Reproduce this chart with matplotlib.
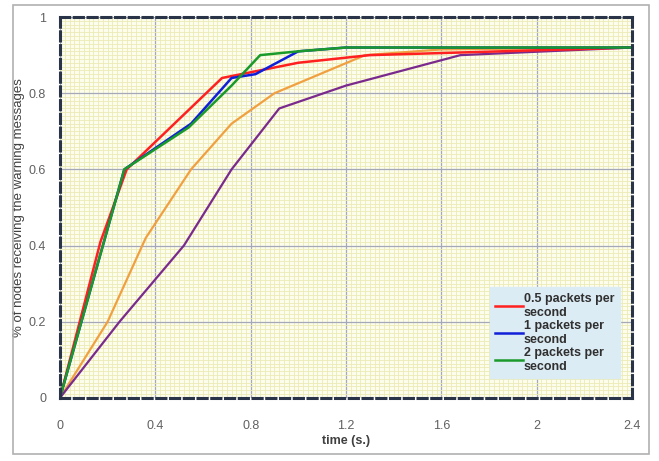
import matplotlib.pyplot as plt
from matplotlib.patches import Rectangle
from matplotlib.ticker import MultipleLocator

plt.rcParams['font.family'] = ['Liberation Sans', 'DejaVu Sans']

# time (s.) vs fraction of nodes receiving the warning messages
t_red = [0, 0.17, 0.28, 0.68, 1.0, 1.3, 2.4]
v_red = [0, 0.41, 0.60, 0.84, 0.88, 0.90, 0.92]
t_blue = [0, 0.27, 0.55, 0.72, 0.82, 1.0, 1.2, 2.4]
v_blue = [0, 0.60, 0.72, 0.84, 0.85, 0.91, 0.92, 0.92]
t_green = [0, 0.27, 0.54, 0.72, 0.84, 1.0, 1.2, 2.4]
v_green = [0, 0.60, 0.71, 0.82, 0.90, 0.91, 0.92, 0.92]
t_orange = [0, 0.2, 0.36, 0.55, 0.72, 0.9, 1.28, 1.6, 2.4]
v_orange = [0, 0.2, 0.42, 0.60, 0.72, 0.80, 0.90, 0.915, 0.92]
t_purple = [0, 0.25, 0.52, 0.72, 0.92, 1.2, 1.68, 2.4]
v_purple = [0, 0.2, 0.40, 0.60, 0.76, 0.82, 0.90, 0.92]

labels = ["0.5 packets per\nsecond", "1 packets per\nsecond", "2 packets per\nsecond"]
xticks = [0, 0.4, 0.8, 1.2, 1.6, 2, 2.4]
xtick_labels = ["0", "0.4", "0.8", "1.2", "1.6", "2", "2.4"]
yticks = [0, 0.2, 0.4, 0.6, 0.8, 1]
ytick_labels = ["0", "0.2", "0.4", "0.6", "0.8", "1"]

fig = plt.figure(figsize=(6.59, 4.61), dpi=100)
fig.patches.append(Rectangle((0.02, 0.015), 0.965, 0.975, transform=fig.transFigure,
                             fill=False, edgecolor="#b0b0b0", lw=1.2))
ax = fig.add_axes([0.091, 0.137, 0.868, 0.826])
ax.set_facecolor("#fdfdee")

ax.xaxis.set_minor_locator(MultipleLocator(0.02))
ax.yaxis.set_minor_locator(MultipleLocator(0.01))
ax.grid(which="minor", color="#ecebb4", lw=0.6)
ax.grid(which="major", color="#a4a8b8", lw=0.9)
ax.set_axisbelow(True)

ax.plot(t_orange, v_orange, color="#f0a040", lw=1.6)
ax.plot(t_purple, v_purple, color="#7a2a8c", lw=1.6)
ax.plot(t_red, v_red, color="#ff2020", lw=1.8, label=labels[0])
ax.plot(t_blue, v_blue, color="#1020d8", lw=1.8, label=labels[1])
ax.plot(t_green, v_green, color="#1a9a2a", lw=1.8, label=labels[2])

ax.set_xlim(0, 2.4)
ax.set_ylim(0, 1)
ax.set_xticks(xticks, xtick_labels)
ax.set_yticks(yticks, ytick_labels)
ax.tick_params(which="both", length=0, labelsize=9, labelcolor="#606060")
ax.tick_params(axis="x", pad=16)
ax.tick_params(axis="y", pad=10)

for s in ax.spines.values():
    s.set_linestyle((0, (3, 1.5)))
    s.set_linewidth(2.2)
    s.set_color("#2a3448")

ax.set_xlabel("time (s.)", fontsize=9, fontweight="bold", color="#404040", labelpad=2)
ax.set_ylabel("% of nodes receiving the warning messages", fontsize=9.5, color="#404040",
              labelpad=3)

leg = ax.legend(loc="lower right", bbox_to_anchor=(0.99, 0.035), fontsize=9,
                facecolor="#dcecf4", edgecolor="#dcecf4", framealpha=1, fancybox=False,
                handlelength=2.2, handletextpad=0.1, labelspacing=0.1, borderpad=0.45)
for txt in leg.get_texts():
    txt.set_color("#303030")
    txt.set_fontweight("bold")

fig.savefig("out.png", dpi=100)
